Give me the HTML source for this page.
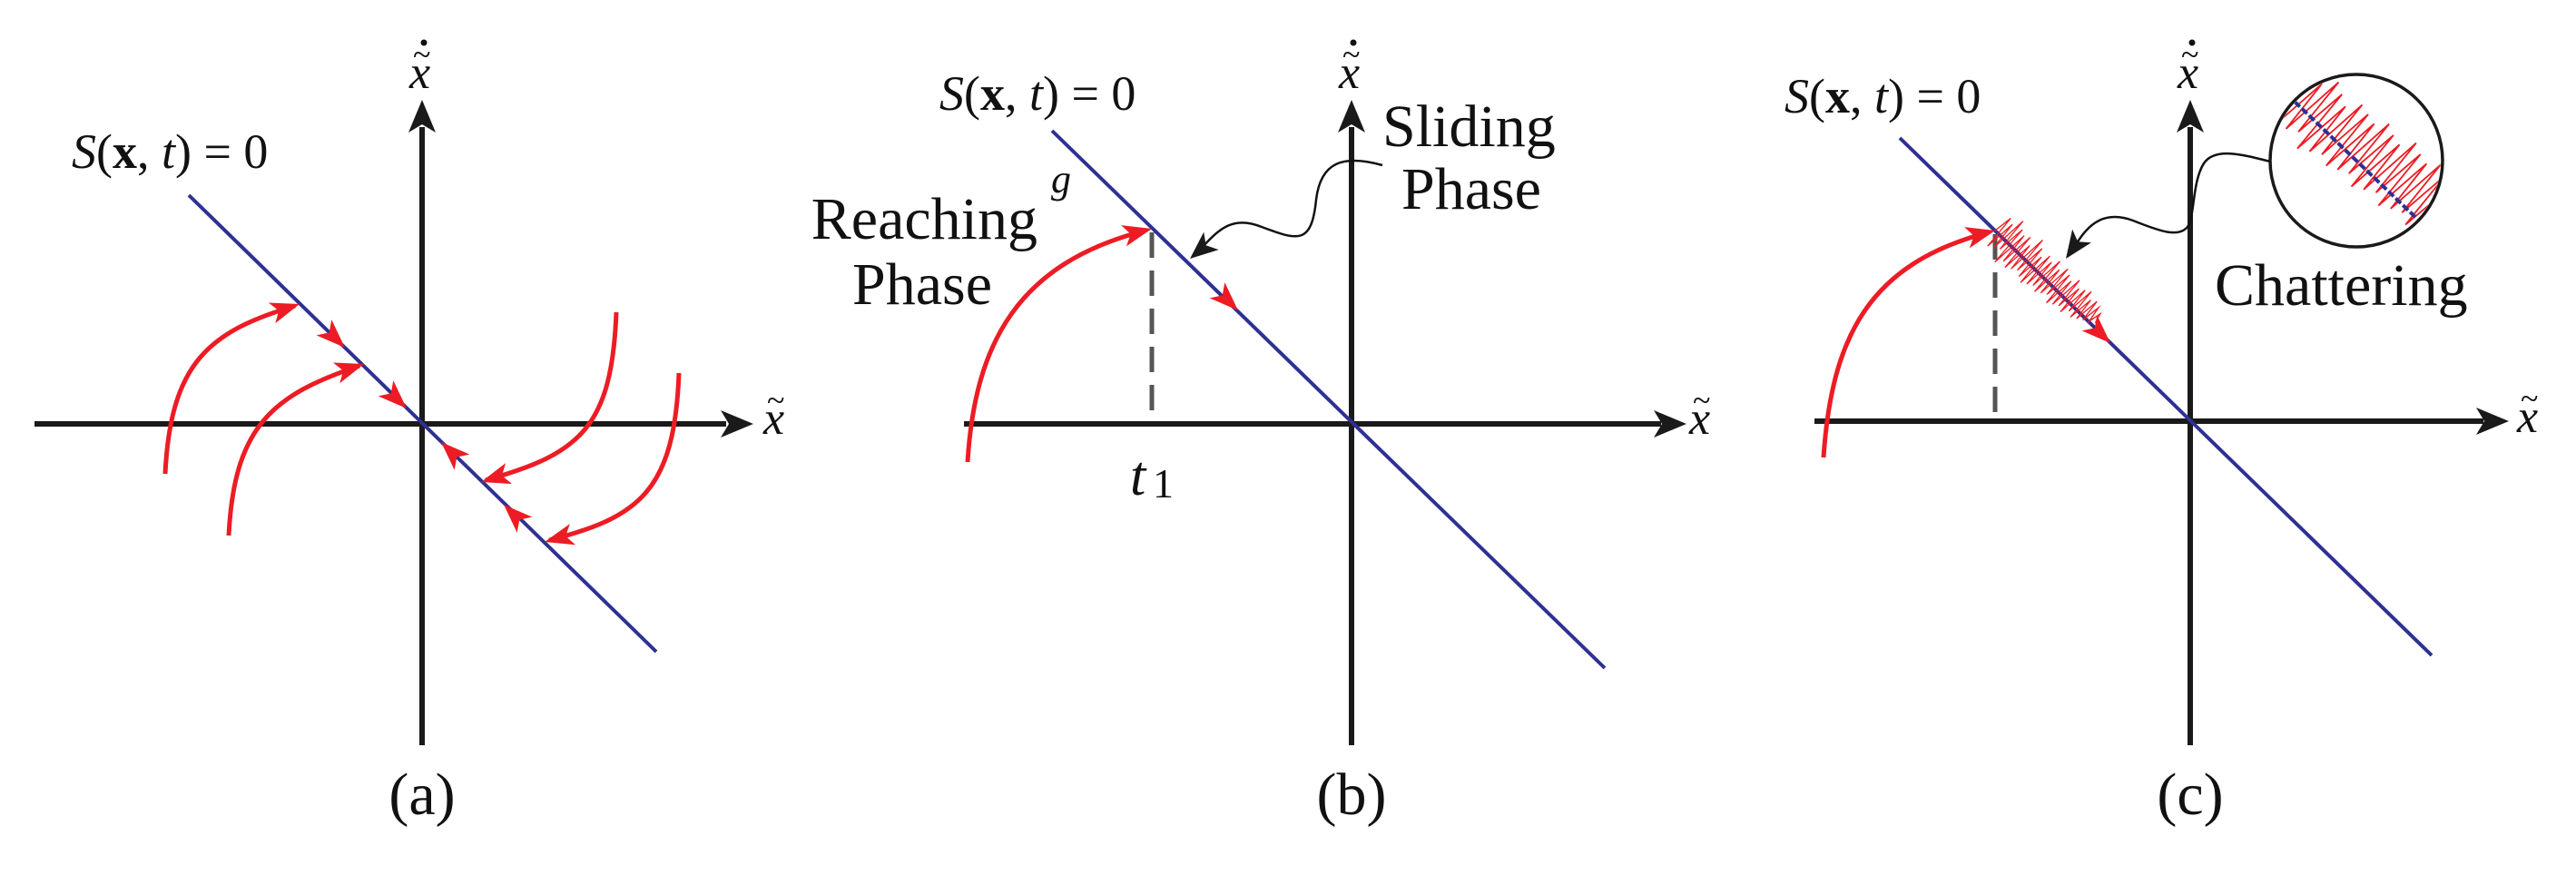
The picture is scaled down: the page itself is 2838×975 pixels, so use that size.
<!DOCTYPE html>
<html><head><meta charset="utf-8"><style>
html,body{margin:0;padding:0;background:#fff}
svg{display:block}
text{font-family:"Liberation Serif","DejaVu Serif",serif;fill:#111}
.m{font-style:italic}
</style></head><body>
<svg width="2838" height="975" viewBox="0 0 2838 975" xmlns="http://www.w3.org/2000/svg" font-family="Liberation Serif, DejaVu Serif, serif">
<defs>
<path id="ar" d="M0,0 L-32,-12 L-24,0 L-32,12 Z" fill="#ed1c24"/>
<path id="ak" d="M0,0 L-36,-15 L-27,0 L-36,15 Z" fill="#1a1a1a"/>
</defs>

<!-- ========== Panel (a) ========== -->
<g stroke="#1a1a1a" stroke-width="6" fill="none">
<line x1="38" y1="467" x2="800" y2="467"/>
<line x1="465" y1="821" x2="465" y2="140"/>
</g>
<use href="#ak" transform="translate(830,467)"/>
<use href="#ak" transform="translate(465,110) rotate(-90)"/>
<line x1="208" y1="215" x2="723" y2="718" stroke="#2e3192" stroke-width="4"/>
<g stroke="#ed1c24" stroke-width="5" fill="none">
<path d="M182,522 C188,400 230,365 325,337"/>
<path d="M252,590 C258,470 300,435 396,403"/>
<path d="M679,344 C674,470 640,500 535,529"/>
<path d="M748,411 C743,540 705,570 605,595"/>
</g>
<use href="#ar" transform="translate(330,335) rotate(-18)"/>
<use href="#ar" transform="translate(401,401) rotate(-18)"/>
<use href="#ar" transform="translate(530,531) rotate(163)"/>
<use href="#ar" transform="translate(600,597) rotate(165)"/>
<use href="#ar" transform="translate(380,383) rotate(44)"/>
<use href="#ar" transform="translate(448,450) rotate(44)"/>
<use href="#ar" transform="translate(486,487) rotate(224)"/>
<use href="#ar" transform="translate(555,556) rotate(224)"/>
<text x="79" y="185" font-size="54"><tspan class="m">S</tspan>(<tspan font-weight="bold">x</tspan>, <tspan class="m">t</tspan>) = 0</text>
<text x="451" y="97" font-size="52" class="m">x</text>
<text x="455" y="72" font-size="36">~</text>
<circle cx="467" cy="47" r="3.5" fill="#111"/>
<text x="841" y="478" font-size="52" class="m">x</text>
<text x="845" y="453" font-size="36">~</text>
<text x="465" y="897" font-size="66" text-anchor="middle">(a)</text>

<!-- ========== Panel (b) ========== -->
<g stroke="#1a1a1a" stroke-width="6" fill="none">
<line x1="1062" y1="467" x2="1830" y2="467"/>
<line x1="1489" y1="821" x2="1489" y2="140"/>
</g>
<use href="#ak" transform="translate(1858,467)"/>
<use href="#ak" transform="translate(1489,110) rotate(-90)"/>
<line x1="1159" y1="144" x2="1768" y2="736" stroke="#2e3192" stroke-width="4"/>
<line x1="1269" y1="256" x2="1269" y2="465" stroke="#555" stroke-width="5" stroke-dasharray="28,14"/>
<path d="M1066,509 C1074,380 1120,290 1262,254" stroke="#ed1c24" stroke-width="5" fill="none"/>
<use href="#ar" transform="translate(1269,252) rotate(-14)"/>
<use href="#ar" transform="translate(1364,342) rotate(44)"/>
<path d="M1523,182 C1480,170 1455,178 1450,220 C1445,270 1430,265 1390,250 C1360,238 1345,250 1325,272" stroke="#111" stroke-width="2.5" fill="none"/>
<use href="#ak" transform="translate(1311,285) scale(0.85) rotate(140)"/>
<text x="1035" y="121" font-size="54"><tspan class="m">S</tspan>(<tspan font-weight="bold">x</tspan>, <tspan class="m">t</tspan>) = 0</text>
<text x="1475" y="97" font-size="52" class="m">x</text>
<text x="1479" y="72" font-size="36">~</text>
<circle cx="1491" cy="47" r="3.5" fill="#111"/>
<text x="1861" y="478" font-size="52" class="m">x</text>
<text x="1865" y="453" font-size="36">~</text>
<text x="1158" y="212" font-size="44" class="m">g</text>
<text x="1143" y="263" font-size="66" text-anchor="end">Reaching</text>
<text x="1093" y="335" font-size="66" text-anchor="end">Phase</text>
<text x="1523" y="161" font-size="66">Sliding</text>
<text x="1544" y="230" font-size="66">Phase</text>
<text x="1245" y="545" font-size="62" class="m">t</text>
<text x="1270" y="548" font-size="46">1</text>
<text x="1489" y="897" font-size="66" text-anchor="middle">(b)</text>

<!-- ========== Panel (c) ========== -->
<g stroke="#1a1a1a" stroke-width="6" fill="none">
<line x1="1999" y1="464" x2="2736" y2="464"/>
<line x1="2413" y1="821" x2="2413" y2="140"/>
</g>
<use href="#ak" transform="translate(2764,464)"/>
<use href="#ak" transform="translate(2413,110) rotate(-90)"/>
<line x1="2093" y1="152" x2="2679" y2="722" stroke="#2e3192" stroke-width="4"/>
<line x1="2198" y1="258" x2="2198" y2="462" stroke="#555" stroke-width="5" stroke-dasharray="28,14"/>
<g transform="translate(2198,254) rotate(44) scale(1,1.8)">
<path d="M0,0 l3,-12 3,22 3,-20 3,18 3,-24 3,22 3,-18 3,26 3,-24 3,20 3,-22 3,24 3,-20 3,18 3,-26 3,24 3,-20 3,22 3,-18 3,20 3,-24 3,22 3,-20 3,18 3,-22 3,24 3,-20 3,18 3,-22 3,20 3,-18 3,22 3,-20 3,18 3,-22 3,20 3,-16 3,18 3,-20 3,16 3,-18 3,20 3,-16 3,14 3,-16 3,14 3,-12 3,10 3,-8 3,6" stroke="#ed1c24" stroke-width="1.3" fill="none"/>
</g>
<path d="M2009,504 C2018,370 2060,290 2191,256" stroke="#ed1c24" stroke-width="5" fill="none"/>
<use href="#ar" transform="translate(2198,254) rotate(-14)"/>
<use href="#ar" transform="translate(2325,378) rotate(44)"/>
<circle cx="2596" cy="177" r="95" fill="#fff" stroke="#1a1a1a" stroke-width="3.5"/>
<clipPath id="cc"><circle cx="2596" cy="177" r="93"/></clipPath>
<g clip-path="url(#cc)">
<g transform="translate(2528,112) rotate(44) scale(1,1.4)">
<path d="M-10,0 l6,-30 6,55 6,-50 6,45 6,-55 6,50 6,-45 6,55 6,-50 6,45 6,-55 6,50 6,-48 6,52 6,-50 6,46 6,-54 6,50 6,-46 6,52 6,-50 6,45 6,-55 6,50 6,-46 6,52 6,-50 6,45 6,-52 6,48 6,-45 6,50 6,-40" stroke="#ed1c24" stroke-width="1.8" fill="none"/>
</g>
<line x1="2528" y1="112" x2="2664" y2="242" stroke="#2e3192" stroke-width="4" stroke-dasharray="8,3"/>
</g>
<path d="M2501,178 C2470,170 2440,162 2428,180 C2415,200 2418,240 2410,250 C2400,262 2380,255 2350,243 C2320,232 2302,245 2288,268" stroke="#111" stroke-width="2.5" fill="none"/>
<use href="#ak" transform="translate(2276,285) scale(0.85) rotate(125)"/>
<text x="1966" y="124" font-size="54"><tspan class="m">S</tspan>(<tspan font-weight="bold">x</tspan>, <tspan class="m">t</tspan>) = 0</text>
<text x="2399" y="97" font-size="52" class="m">x</text>
<text x="2403" y="72" font-size="36">~</text>
<circle cx="2415" cy="47" r="3.5" fill="#111"/>
<text x="2773" y="476" font-size="52" class="m">x</text>
<text x="2777" y="451" font-size="36">~</text>
<text x="2440" y="336" font-size="66">Chattering</text>
<text x="2413" y="897" font-size="66" text-anchor="middle">(c)</text>
</svg>
</body></html>
